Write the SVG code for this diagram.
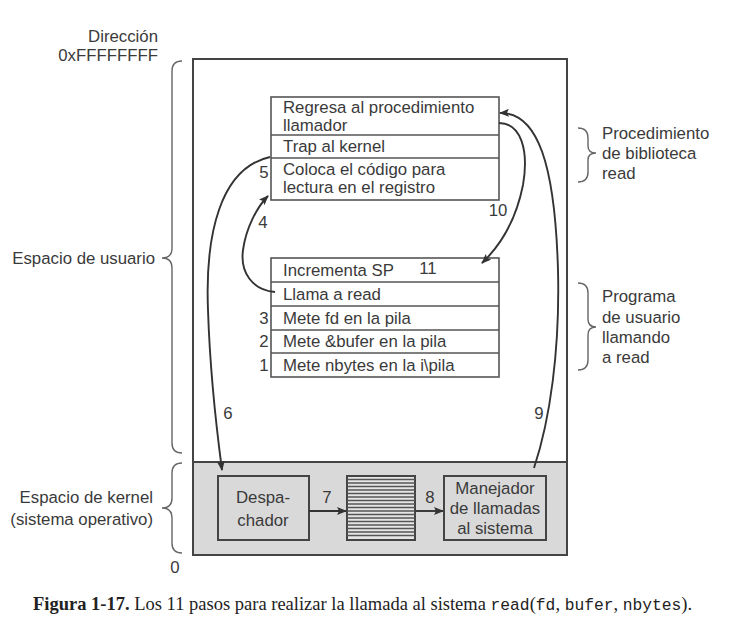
<svg xmlns="http://www.w3.org/2000/svg" width="730" height="640" viewBox="0 0 730 640">
<style>
  .t { font-family: "Liberation Sans", Arial, sans-serif; font-size: 16.8px; fill: #3a3a3a; }
  .r { text-anchor: end; }
  .m { text-anchor: middle; }
  .box { fill: #ffffff; stroke: #555555; stroke-width: 1.6; }
  .kbox { fill: #d9d9d9; stroke: #444444; stroke-width: 2; }
  .sep { stroke: #555555; stroke-width: 1.6; }
  .brace { fill: none; stroke: #666666; stroke-width: 1.4; }
  .conn { fill: none; stroke: #333333; stroke-width: 1.9; }
  .stripe { stroke: #555555; stroke-width: 1.5; }
  .cap { font-family: "Liberation Serif", "Times New Roman", serif; font-size: 18.5px; fill: #222222; }
  .mono { font-family: "Liberation Mono", "Courier New", monospace; font-size: 16.3px; }
</style>
<defs>
  <marker id="ah" viewBox="0 0 10 8" refX="9" refY="4" markerWidth="10" markerHeight="8" markerUnits="userSpaceOnUse" orient="auto">
    <path d="M0,0 L10,4 L0,8 L2,4 Z" fill="#333333"/>
  </marker>
</defs>
<rect width="730" height="640" fill="#ffffff"/>

<g id="memory">
  <rect x="193" y="59" width="374" height="496" fill="#ffffff" stroke="#444444" stroke-width="2"/>
  <rect x="193" y="462" width="374" height="93" fill="#d9d9d9" stroke="#444444" stroke-width="2"/>
</g>

<g id="labels-left">
  <text class="t r" x="158" y="42">Dirección</text>
  <text class="t r" x="158" y="61">0xFFFFFFFF</text>
  <text class="t r" x="155" y="264">Espacio de usuario</text>
  <text class="t r" x="153" y="503">Espacio de kernel</text>
  <text class="t r" x="153" y="525">(sistema operativo)</text>
  <text class="t m" x="175" y="573">0</text>
  <path class="brace" d="M182,61 Q172,61 172,71 L172,248 Q172,258 162,258 Q172,258 172,268 L172,443 Q172,453 182,453"/>
  <path class="brace" d="M182,463 Q172,463 172,473 L172,498 Q172,508 162,508 Q172,508 172,518 L172,543 Q172,553 182,553"/>
</g>

<g id="library">
  <rect class="box" x="271" y="97" width="228" height="103"/>
  <line class="sep" x1="271" y1="135" x2="499" y2="135"/>
  <line class="sep" x1="271" y1="158" x2="499" y2="158"/>
  <text class="t" x="283" y="113">Regresa al procedimiento</text>
  <text class="t" x="283" y="131">llamador</text>
  <text class="t" x="283" y="152">Trap al kernel</text>
  <text class="t" x="283" y="175">Coloca el código para</text>
  <text class="t" x="283" y="193">lectura en el registro</text>
  <text class="t m" x="264" y="178">5</text>
</g>

<g id="user-program">
  <rect class="box" x="271" y="258" width="228" height="119"/>
  <line class="sep" x1="271" y1="282" x2="499" y2="282"/>
  <line class="sep" x1="271" y1="306" x2="499" y2="306"/>
  <line class="sep" x1="271" y1="330" x2="499" y2="330"/>
  <line class="sep" x1="271" y1="353" x2="499" y2="353"/>
  <text class="t" x="283" y="276">Incrementa SP</text>
  <text class="t m" x="428" y="274">11</text>
  <text class="t" x="283" y="300">Llama a read</text>
  <text class="t" x="283" y="324">Mete fd en la pila</text>
  <text class="t" x="283" y="347">Mete &amp;bufer en la pila</text>
  <text class="t" x="283" y="371">Mete nbytes en la i\pila</text>
  <text class="t m" x="264" y="324">3</text>
  <text class="t m" x="264" y="347">2</text>
  <text class="t m" x="264" y="371">1</text>
</g>

<g id="labels-right">
  <path class="brace" d="M578,128 Q588,128 588,138 L588,146 Q588,153 596,153 Q588,153 588,160 L588,172 Q588,182 578,182"/>
  <text class="t" x="602" y="139">Procedimiento</text>
  <text class="t" x="602" y="159">de biblioteca</text>
  <text class="t" x="602" y="179">read</text>
  <path class="brace" d="M578,283 Q588,283 588,293 L588,319 Q588,327 596,327 Q588,327 588,335 L588,360 Q588,370 578,370"/>
  <text class="t" x="602" y="302">Programa</text>
  <text class="t" x="602" y="323">de usuario</text>
  <text class="t" x="602" y="343">llamando</text>
  <text class="t" x="602" y="363">a read</text>
</g>

<g id="dispatcher">
  <rect class="kbox" x="218" y="476" width="91" height="64"/>
  <text class="t m" x="263" y="503">Despa-</text>
  <text class="t m" x="263" y="526">chador</text>
</g>

<g id="table">
  <rect x="347" y="476" width="68" height="64" fill="#e6e6e6" stroke="#444444" stroke-width="2"/>
  <line class="stripe" x1="347" y1="479.5" x2="415" y2="479.5"/>
  <line class="stripe" x1="347" y1="483" x2="415" y2="483"/>
  <line class="stripe" x1="347" y1="486.5" x2="415" y2="486.5"/>
  <line class="stripe" x1="347" y1="490" x2="415" y2="490"/>
  <line class="stripe" x1="347" y1="493.5" x2="415" y2="493.5"/>
  <line class="stripe" x1="347" y1="497" x2="415" y2="497"/>
  <line class="stripe" x1="347" y1="500.5" x2="415" y2="500.5"/>
  <line class="stripe" x1="347" y1="504" x2="415" y2="504"/>
  <line class="stripe" x1="347" y1="507.5" x2="415" y2="507.5"/>
  <line class="stripe" x1="347" y1="511" x2="415" y2="511"/>
  <line class="stripe" x1="347" y1="514.5" x2="415" y2="514.5"/>
  <line class="stripe" x1="347" y1="518" x2="415" y2="518"/>
  <line class="stripe" x1="347" y1="521.5" x2="415" y2="521.5"/>
  <line class="stripe" x1="347" y1="525" x2="415" y2="525"/>
  <line class="stripe" x1="347" y1="528.5" x2="415" y2="528.5"/>
  <line class="stripe" x1="347" y1="532" x2="415" y2="532"/>
  <line class="stripe" x1="347" y1="535.5" x2="415" y2="535.5"/>
</g>

<g id="handler">
  <rect class="kbox" x="444" y="476" width="102" height="64"/>
  <text class="t m" x="495" y="494">Manejador</text>
  <text class="t m" x="495" y="514">de llamadas</text>
  <text class="t m" x="495" y="534">al sistema</text>
</g>

<g id="connectors">
  <path class="conn" d="M275,292 C252,290 240,272 243,250 C246,228 257,207 268,196" marker-end="url(#ah)"/>
  <text class="t m" x="263" y="228">4</text>
  <path class="conn" d="M270,157 C220,168 205,235 208,310 C210,372 216,425 222,470" marker-end="url(#ah)"/>
  <text class="t m" x="228" y="419">6</text>
  <path class="conn" d="M309,511 L346,511" marker-end="url(#ah)"/>
  <text class="t m" x="327" y="503">7</text>
  <path class="conn" d="M415,511 L443,511" marker-end="url(#ah)"/>
  <text class="t m" x="430" y="503">8</text>
  <path class="conn" d="M534,468 C550,420 560,350 558,270 C555,165 538,112 500,113" marker-end="url(#ah)"/>
  <text class="t m" x="539" y="419">9</text>
  <path class="conn" d="M499,123 C521,123 529,150 523,185 C516,220 500,246 482,263" marker-end="url(#ah)"/>
  <text class="t m" x="498" y="216">10</text>
</g>

<g id="caption">
  <text class="cap" x="33" y="610"><tspan font-weight="bold">Figura 1-17.</tspan> Los 11 pasos para realizar la llamada al sistema <tspan class="mono">read</tspan>(<tspan class="mono">fd</tspan>, <tspan class="mono">bufer</tspan>, <tspan class="mono">nbytes</tspan>).</text>
</g>
</svg>
